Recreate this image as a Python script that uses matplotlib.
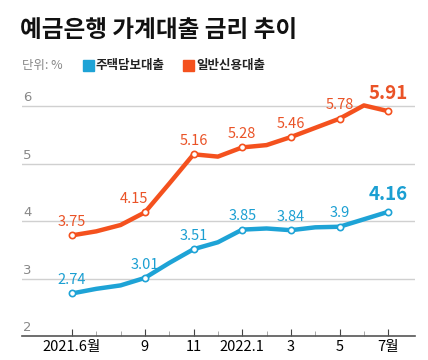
import matplotlib.pyplot as plt
import numpy as np

plt.rcParams['font.family'] = ['Noto Sans CJK KR', 'DejaVu Sans']

# 2021.6 ~ 2022.7 monthly
months = list(range(14))
mortgage = [2.74, 2.82, 2.88, 3.01, 3.27, 3.51, 3.63, 3.85, 3.87, 3.84, 3.89, 3.90, 4.03, 4.16]
credit = [3.75, 3.82, 3.93, 4.15, 4.65, 5.16, 5.12, 5.28, 5.32, 5.46, 5.62, 5.78, 6.01, 5.91]
label_idx = [0, 3, 5, 7, 9, 11, 13]
tick_idx = [0, 3, 5, 7, 9, 11, 13]
tick_labels = ['2021.6월', '9', '11', '2022.1', '3', '5', '7월']
yticks = [2, 3, 4, 5, 6]

blue = '#1ea3d6'
orange = '#f4511e'
blue_txt = '#1b9fd2'
orange_txt = '#ea5327'

fig = plt.figure(figsize=(4.28, 3.6), dpi=100)
ax = fig.add_axes([22 / 428, 24 / 360, 393 / 428, 247.25 / 360])
ax.set_xlim(-2.05, 14.1)
ax.set_ylim(2, 6.3)

for y in yticks:
    if y > 2:
        ax.axhline(y, color='#d0d0d0', lw=1, zorder=1)
    ax.text(-2.0, y + 0.03, str(y), color='#888888', fontsize=9.5,
            ha='left', va='bottom', family=['DejaVu Sans'])

for vals, col, tcol in [(credit, orange, orange_txt), (mortgage, blue, blue_txt)]:
    ax.plot(months, vals, color=col, lw=3.2, solid_capstyle='round', zorder=3)
    ax.plot([months[i] for i in label_idx], [vals[i] for i in label_idx],
            'o', ms=4.5, mfc='white', mec=col, mew=1.2, zorder=4)
    for i in label_idx:
        v = vals[i]
        s = ('%.2f' % v).rstrip('0').rstrip('.')
        last = i == 13
        dx = -0.45 if (col == orange and i == 3) else 0
        ax.text(i + dx, v + (0.14 if last else 0.11), s, color=tcol,
                fontsize=13.5 if last else 10.5,
                fontweight='bold' if last else 'medium',
                ha='center', va='bottom', zorder=5)

for s in ['top', 'right', 'left']:
    ax.spines[s].set_visible(False)
ax.spines['bottom'].set_color('#555555')
ax.spines['bottom'].set_linewidth(1.2)
ax.set_yticks([])
ax.set_xticks(tick_idx)
ax.set_xticklabels(tick_labels, fontsize=10.5)
ax.set_xticks(months, minor=True)
ax.tick_params(axis='x', which='major', direction='in', length=5, color='#444444', pad=3)
ax.tick_params(axis='x', which='minor', direction='in', length=3.5, color='#999999')

fig.text(20 / 428, 1 - 30 / 360, '예금은행 가계대출 금리 추이', fontsize=17,
         fontweight='heavy', color='#111111', va='center', ha='left')
fig.text(22 / 428, 1 - 65 / 360, '단위: %', fontsize=9, color='#888888', va='center', ha='left')
fig.patches.append(plt.Rectangle((83 / 428, 1 - 71 / 360), 11 / 428, 11 / 360,
                                 transform=fig.transFigure, color=blue))
fig.text(96 / 428, 1 - 65 / 360, '주택담보대출', fontsize=9, color='#222222',
         va='center', ha='left', fontweight='bold')
fig.patches.append(plt.Rectangle((183 / 428, 1 - 71 / 360), 11 / 428, 11 / 360,
                                 transform=fig.transFigure, color=orange))
fig.text(196 / 428, 1 - 65 / 360, '일반신용대출', fontsize=9, color='#222222',
         va='center', ha='left', fontweight='bold')

fig.savefig('out.png', dpi=100)
